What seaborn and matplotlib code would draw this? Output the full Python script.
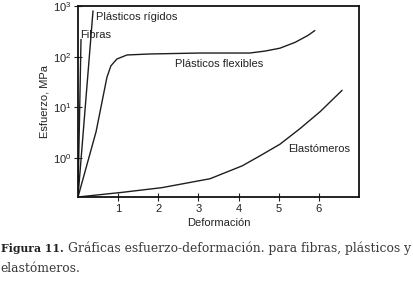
import matplotlib
matplotlib.use("Agg")
import matplotlib.pyplot as plt
import seaborn as sns

# valores: deformacion vs esfuerzo (MPa)
fibras_x = [0.0, 0.075]
fibras_y = [0.17, 220]

rigidos_x = [0.0, 0.374]
rigidos_y = [0.17, 800]

flexibles_x = [0.0, 0.45, 0.72, 0.82, 0.97, 1.22, 1.79, 3.04, 4.28, 4.66, 5.03, 5.41, 5.73, 5.90]
flexibles_y = [0.17, 3.3, 39, 66, 90, 108, 113, 118, 118, 129, 147, 192, 263, 328]

elast_x = [0.0, 1.10, 2.09, 3.29, 4.09, 4.53, 5.03, 5.53, 6.03, 6.58]
elast_y = [0.17, 0.21, 0.26, 0.39, 0.70, 1.10, 1.87, 3.8, 8.2, 21.7]

x_ticks = [1, 2, 3, 4, 5, 6]
y_ticks = [1, 10, 100, 1000]
y_tick_labels = ["$10^{0}$", "$10^{1}$", "$10^{2}$", "$10^{3}$"]

series = [
    ("Fibras", fibras_x, fibras_y),
    ("Plásticos rígidos", rigidos_x, rigidos_y),
    ("Plásticos flexibles", flexibles_x, flexibles_y),
    ("Elastómeros", elast_x, elast_y),
]

sns.set_style("ticks")
plt.rcParams["font.family"] = ["Liberation Sans", "DejaVu Sans"]
plt.rcParams["mathtext.default"] = "regular"

fig = plt.figure(figsize=(4.14, 2.83), dpi=100)
ax = fig.add_axes([78 / 414, 1 - 197 / 283, (359 - 78) / 414, (197 - 6) / 283])

line_color = "#1e1e1e"
for name, xs, ys in series:
    sns.lineplot(x=xs, y=ys, ax=ax, color=line_color, linewidth=1.0,
                 sort=False, estimator=None)

ax.set_yscale("log")
ax.set_xlim(0, 7)
ax.set_ylim(0.17, 1000)
ax.set_xticks(x_ticks)
ax.set_yticks(y_ticks)
ax.set_yticklabels(y_tick_labels)
ax.minorticks_off()
ax.tick_params(direction="inout", length=6, width=0.8, labelsize=8,
               colors="#222222", pad=2)

for side in ["left", "right", "top", "bottom"]:
    ax.spines[side].set_visible(True)
    ax.spines[side].set_linewidth(1.3)
    ax.spines[side].set_color("#111111")

ax.set_xlabel("Deformación", fontsize=8, color="#222222", labelpad=3)
ax.set_ylabel("Esfuerzo, MPa", fontsize=8, color="#222222", labelpad=2)

# etiquetas de cada curva
txt = dict(fontsize=8, color="#222222", va="center", ha="left")
ax.text(0.45, 600, "Plásticos rígidos", **txt)
ax.text(0.05, 270, "Fibras", **txt)
ax.text(2.42, 73, "Plásticos flexibles", **txt)
ax.text(5.23, 1.5, "Elastómeros", **txt)

# pie de figura
cap_y1 = 1 - 248 / 283
cap_y2 = 1 - 268 / 283
bold = fig.text(0.002, cap_y1, "Figura 11.", fontsize=7.8, fontweight="bold",
                family="DejaVu Serif", color="#222222", va="center", ha="left")
renderer = fig.canvas.get_renderer()
x1 = bold.get_window_extent(renderer).x1 / fig.bbox.width
fig.text(x1 + 0.011, cap_y1, "Gráficas esfuerzo-deformación. para fibras, plásticos y",
         fontsize=8.9, family="DejaVu Serif", color="#3a3a3a", va="center", ha="left")
fig.text(0.002, cap_y2, "elastómeros.", fontsize=8.9,
         family="DejaVu Serif", color="#3a3a3a", va="center", ha="left")

fig.savefig("out.png", dpi=100)
